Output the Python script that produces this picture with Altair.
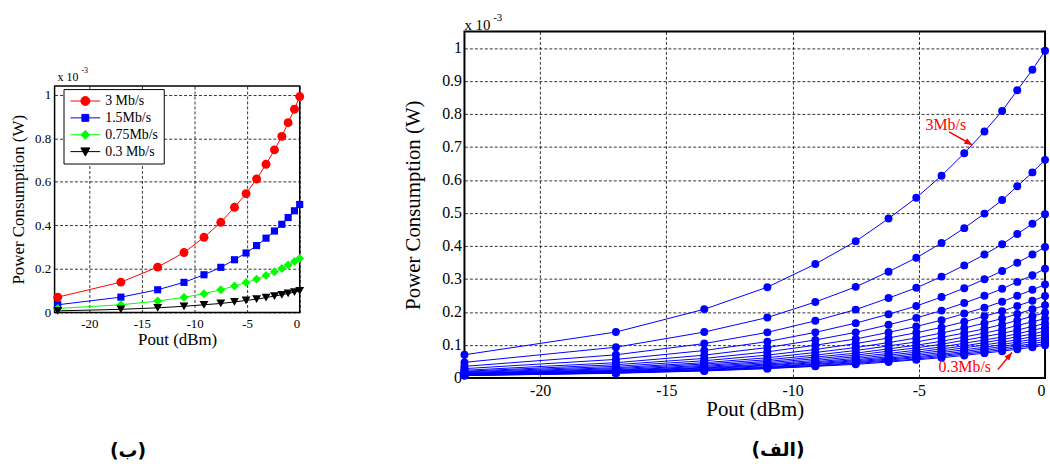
import altair as alt
import pandas as pd

# Output power (dBm) at which every curve is sampled
pout = [-23.0, -17.0, -13.5, -11.0, -9.1, -7.5, -6.2, -5.1, -4.1, -3.2, -2.4, -1.7, -1.1, -0.5, 0.0]

# Right panel (الف): power consumption (x1e-3 W), one row per data rate, 3 Mb/s ... 0.3 Mb/s
rates = ["3", "2", "1.5", "1.2", "1", "0.86", "0.75", "0.67", "0.6", "0.55",
         "0.5", "0.46", "0.43", "0.4", "0.375", "0.35", "0.33", "0.32", "0.3"]
power = [
    [0.070, 0.139, 0.208, 0.275, 0.345, 0.414, 0.483, 0.546, 0.613, 0.681, 0.747, 0.809, 0.872, 0.934, 0.992],
    [0.047, 0.093, 0.139, 0.183, 0.230, 0.276, 0.322, 0.364, 0.409, 0.454, 0.498, 0.539, 0.581, 0.623, 0.661],
    [0.035, 0.070, 0.104, 0.138, 0.173, 0.207, 0.242, 0.273, 0.307, 0.341, 0.374, 0.405, 0.436, 0.467, 0.496],
    [0.028, 0.056, 0.083, 0.110, 0.138, 0.166, 0.193, 0.218, 0.245, 0.272, 0.299, 0.324, 0.349, 0.374, 0.397],
    [0.023, 0.046, 0.069, 0.092, 0.115, 0.138, 0.161, 0.182, 0.204, 0.227, 0.249, 0.270, 0.291, 0.311, 0.331],
    [0.020, 0.040, 0.059, 0.079, 0.099, 0.118, 0.138, 0.156, 0.175, 0.195, 0.213, 0.231, 0.249, 0.267, 0.283],
    [0.018, 0.035, 0.052, 0.069, 0.086, 0.104, 0.121, 0.137, 0.153, 0.170, 0.187, 0.202, 0.218, 0.234, 0.248],
    [0.016, 0.031, 0.046, 0.061, 0.077, 0.092, 0.107, 0.121, 0.136, 0.151, 0.166, 0.180, 0.194, 0.208, 0.220],
    [0.014, 0.028, 0.042, 0.055, 0.069, 0.083, 0.097, 0.109, 0.123, 0.136, 0.149, 0.162, 0.174, 0.187, 0.198],
    [0.013, 0.025, 0.038, 0.050, 0.063, 0.075, 0.088, 0.099, 0.111, 0.124, 0.136, 0.147, 0.159, 0.170, 0.180],
    [0.012, 0.023, 0.035, 0.046, 0.058, 0.069, 0.081, 0.091, 0.102, 0.114, 0.125, 0.135, 0.145, 0.156, 0.165],
    [0.011, 0.021, 0.032, 0.042, 0.053, 0.064, 0.074, 0.084, 0.094, 0.105, 0.115, 0.124, 0.134, 0.144, 0.153],
    [0.010, 0.020, 0.030, 0.039, 0.049, 0.059, 0.069, 0.078, 0.088, 0.097, 0.107, 0.116, 0.125, 0.133, 0.142],
    [0.009, 0.019, 0.028, 0.037, 0.046, 0.055, 0.064, 0.073, 0.082, 0.091, 0.100, 0.108, 0.116, 0.125, 0.132],
    [0.009, 0.017, 0.026, 0.034, 0.043, 0.052, 0.060, 0.068, 0.077, 0.085, 0.093, 0.101, 0.109, 0.117, 0.124],
    [0.008, 0.016, 0.024, 0.032, 0.041, 0.049, 0.057, 0.064, 0.072, 0.080, 0.088, 0.095, 0.103, 0.110, 0.117],
    [0.008, 0.015, 0.023, 0.031, 0.038, 0.046, 0.054, 0.061, 0.068, 0.076, 0.083, 0.090, 0.097, 0.104, 0.110],
    [0.007, 0.015, 0.022, 0.029, 0.036, 0.044, 0.051, 0.057, 0.065, 0.072, 0.079, 0.085, 0.092, 0.098, 0.104],
    [0.007, 0.014, 0.021, 0.028, 0.035, 0.041, 0.048, 0.055, 0.061, 0.068, 0.075, 0.081, 0.087, 0.093, 0.099],
]

# Left panel (ب): four of the rates
left_labels = ["3 Mb/s", "1.5Mb/s", "0.75Mb/s", "0.3 Mb/s"]
left_rows = [0, 2, 6, 18]
left_colors = ["#ff0000", "#0000ff", "#00ff00", "#000000"]
left_shapes = ["circle", "M-0.8,-0.8L0.8,-0.8L0.8,0.8L-0.8,0.8Z", "diamond", "triangle-down"]
# legend symbols: short line with the marker in the middle
legend_paths = [
    "M-1,0L5,0M2.9,0A0.9,0.9,0,1,1,1.1,0A0.9,0.9,0,1,1,2.9,0Z",
    "M-1,0L5,0M1.3,-0.7L2.7,-0.7L2.7,0.7L1.3,0.7Z",
    "M-1,0L5,0M2,-0.9L2.9,0L2,0.9L1.1,0Z",
    "M-1,0L5,0M1.1,-0.75L2.9,-0.75L2,0.9Z",
]

# Annotations (right panel)
ann_text = ["3Mb/s", "0.3Mb/s"]
ann_x = [-3.93, -3.18]
ann_y = [0.752, 0.019]
arr_x = [-3.80, -1.87]
arr_y = [0.746, 0.025]
arr_x2 = [-2.88, -1.31]
arr_y2 = [0.706, 0.077]
arr_angle = [30, 310]

FONT = "Liberation Serif"

right_df = pd.DataFrame(
    [{"pout": p, "power": v, "rate": r} for r, row in zip(rates, power) for p, v in zip(pout, row)]
)
left_df = pd.DataFrame(
    [{"pout": p, "power": v, "series": lab}
     for lab, idx in zip(left_labels, left_rows) for p, v in zip(pout, power[idx])]
)
ann_df = pd.DataFrame({"text": ann_text, "pout": ann_x, "power": ann_y})
arr_df = pd.DataFrame({"pout": arr_x, "power": arr_y, "pout2": arr_x2, "power2": arr_y2})
head_df = pd.DataFrame({"pout": arr_x2, "power": arr_y2, "angle": arr_angle})
one = pd.DataFrame({"k": [0]})


def axis_common(**kw):
    return alt.Axis(
        ticks=False, domain=False, grid=True, gridColor="black", gridDash=[3, 2],
        gridWidth=0.8, gridOpacity=1, labelFont=FONT, titleFont=FONT,
        labelColor="black", titleColor="black", titleFontWeight="normal",
        labelOverlap=False, **kw
    )


# ---------------- Left panel ----------------
xl = alt.X("pout:Q", scale=alt.Scale(domain=[-23.3, 0], nice=False),
           axis=axis_common(values=[-20, -15, -10, -5, 0], labelExpr="datum.value",
                            title="Pout (dBm)", labelFontSize=13, titleFontSize=17,
                            labelPadding=5, titlePadding=1))
yl = alt.Y("power:Q", scale=alt.Scale(domain=[0, 1.04], nice=False),
           axis=axis_common(values=[0, 0.2, 0.4, 0.6, 0.8, 1], labelExpr="datum.value",
                            title="Power Consumption (W)", labelFontSize=13, titleFontSize=17,
                            labelPadding=4, titlePadding=7))

lbase = alt.Chart(left_df)
l_lines = [
    lbase.transform_filter(alt.datum.series == lab).mark_line(strokeWidth=1, color=col).encode(
        x=xl, y=yl)
    for lab, col in zip(left_labels, left_colors)
]
l_points = [
    lbase.transform_filter(alt.datum.series == lab).mark_point(
        filled=True, opacity=1, shape=shp, size=81, color=col
    ).encode(x=xl, y=yl)
    for lab, shp, col in zip(left_labels, left_shapes, left_colors)
]
# legend is hoisted to the column group, whose origin lies 54 px above the plot
leg = alt.Legend(title=None, orient="none", legendX=9, legendY=58, fillColor="white",
                 strokeColor="black", padding=5, labelFont=FONT, labelFontSize=14,
                 labelColor="black", labelOffset=23, symbolSize=100, symbolStrokeWidth=1,
                 symbolOpacity=1, rowPadding=3)
l_legend = lbase.mark_point(filled=True, opacity=0).encode(
    x=xl, y=yl,
    fill=alt.Fill("series:N", scale=alt.Scale(domain=left_labels, range=left_colors), legend=leg),
    stroke=alt.Stroke("series:N", scale=alt.Scale(domain=left_labels, range=left_colors), legend=leg),
    shape=alt.Shape("series:N", scale=alt.Scale(domain=left_labels, range=legend_paths), legend=leg),
)
l_exp = alt.Chart(one).mark_text(text="x 10", font=FONT, fontSize=12, align="left",
                                 baseline="alphabetic", color="black").encode(
    x=alt.value(3), y=alt.value(-5))
l_sup = alt.Chart(one).mark_text(text="-3", font=FONT, fontSize=8, align="left",
                                 baseline="alphabetic", color="black").encode(
    x=alt.value(27), y=alt.value(-13))
l_lab = alt.Chart(one).mark_text(text="(ب)", font="DejaVu Sans", fontSize=19, fontWeight="bold",
                                 align="center", baseline="alphabetic", color="black").encode(
    x=alt.value(74), y=alt.value(374))
l_bound = alt.Chart(one).mark_rule(opacity=0).encode(
    x=alt.value(0), y=alt.value(-22), y2=alt.value(-21))

left = alt.layer(*l_lines, *l_points, l_legend, l_exp, l_sup, l_lab, l_bound).properties(
    width=247, height=228, view=alt.ViewBackground(stroke="black", strokeWidth=1.5))

# spacer that lowers the small panel relative to the big one
spacer = alt.Chart(one).mark_rule(opacity=0).encode(
    x=alt.value(0), y=alt.value(0), y2=alt.value(32)
).properties(width=1, height=32, view=alt.ViewBackground(strokeWidth=0))

left_col = alt.vconcat(spacer, left, spacing=0)

# ---------------- Right panel ----------------
xr = alt.X("pout:Q", scale=alt.Scale(domain=[-23, 0], nice=False),
           axis=axis_common(values=[-20, -15, -10, -5, 0], labelExpr="datum.value",
                            title="Pout (dBm)", labelFontSize=16, titleFontSize=21,
                            labelPadding=5, titlePadding=0))
yr = alt.Y("power:Q", scale=alt.Scale(domain=[0, 1.05], nice=False),
           axis=axis_common(values=[0, 0.1, 0.2, 0.3, 0.4, 0.5, 0.6, 0.7, 0.8, 0.9, 1],
                            labelExpr="datum.value", title="Power Consumption (W)",
                            labelFontSize=16, titleFontSize=21, labelPadding=3, titlePadding=18))

rbase = alt.Chart(right_df)
r_lines = rbase.mark_line(strokeWidth=1, color="#0000ff").encode(x=xr, y=yr, detail="rate:N")
r_points = rbase.mark_point(filled=True, opacity=1, size=64, color="#0000ff").encode(x=xr, y=yr)

r_ann = alt.Chart(ann_df).mark_text(font=FONT, fontSize=16, color="#ff0000", align="center",
                                    baseline="alphabetic").encode(x=xr, y=yr, text="text:N")
r_arr = alt.Chart(arr_df).mark_rule(color="#ff0000", strokeWidth=1.5).encode(
    x=xr, y=yr, x2="pout2:Q", y2="power2:Q")
r_head = alt.Chart(head_df).mark_point(filled=True, opacity=1, color="#ff0000", size=64,
                                       shape="M0,0L-2,-0.8L-2,0.8Z").encode(
    x=xr, y=yr, angle=alt.Angle("angle:Q", scale=None))
r_exp = alt.Chart(one).mark_text(text="x 10", font=FONT, fontSize=15, align="left",
                                 baseline="alphabetic", color="black").encode(
    x=alt.value(0), y=alt.value(-2))
r_sup = alt.Chart(one).mark_text(text="-3", font=FONT, fontSize=11, align="left",
                                 baseline="alphabetic", color="black").encode(
    x=alt.value(29), y=alt.value(-11))
r_lab = alt.Chart(one).mark_text(text="(الف)", font="DejaVu Sans", fontSize=19, fontWeight="bold",
                                 align="center", baseline="alphabetic", color="black").encode(
    x=alt.value(316), y=alt.value(428))
r_bound = alt.Chart(one).mark_rule(opacity=0).encode(
    x=alt.value(0), y=alt.value(-22), y2=alt.value(-21))

right = alt.layer(r_lines, r_points, r_arr, r_head, r_ann, r_exp, r_sup, r_lab, r_bound).properties(
    width=585, height=349, view=alt.ViewBackground(stroke="black", strokeWidth=2))

chart = alt.hconcat(left_col, right, spacing=88).properties(
    padding={"left": 9, "top": 7, "right": 0, "bottom": 0}, background="white"
).configure_view(strokeWidth=0)

chart.save("out.html", embed_options={"renderer": "svg", "actions": False})
